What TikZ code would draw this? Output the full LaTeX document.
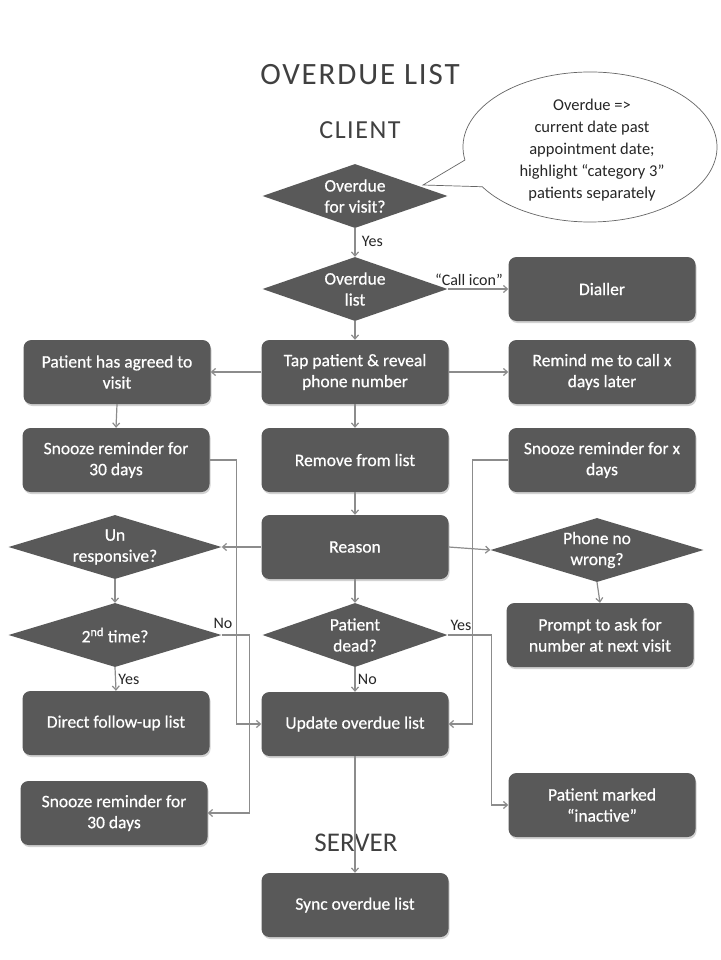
\documentclass[tikz,border=0pt]{standalone}
\usepackage{fontspec}
\setmainfont{Carlito}
\newfontfamily\titlefont[LetterSpace=6]{Carlito}
\newfontfamily\boxfont[FakeBold=0.6]{Carlito}
\usetikzlibrary{shapes.geometric,arrows.meta,shadows}
\definecolor{boxfill}{RGB}{89,89,89}
\definecolor{linegray}{RGB}{140,140,140}
\definecolor{titlegray}{RGB}{64,64,64}
\begin{document}
\begin{tikzpicture}[x=1pt,y=-1pt,
  box/.style={draw=none, fill=boxfill, rounded corners=8pt, minimum width=187pt, minimum height=64pt,
     text=white, align=center, font=\boxfont\fontsize{17.5}{21}\selectfont, inner sep=2pt,
     drop shadow={opacity=0.35, shadow xshift=1pt, shadow yshift=-2pt}},
  dia/.style={diamond, draw=none, fill=boxfill, inner sep=0pt, minimum width=#1, minimum height=64pt},
  dia/.default=185pt,
  dtext/.style={text=white, align=center, font=\boxfont\fontsize{17.5}{21}\selectfont},
  arr/.style={draw=linegray, line width=1.2pt, -{Straight Barb[length=4pt,width=7pt]}},
  lbl/.style={font=\fontsize{16}{19}\selectfont, text=black!85},
  ttl/.style={font=\titlefont, text=titlegray},
  bubble/.style={draw=black!60, line width=0.7pt, fill=white}
]
\useasboundingbox[fill=white] (0,0) rectangle (720,960);

% titles
\node[ttl, font=\titlefont\fontsize{31}{34}\selectfont] (title) at (360,75) {OVERDUE LIST};
\node[ttl, font=\titlefont\fontsize{26}{30}\selectfont] (client) at (360,130) {CLIENT};

% speech bubble
\coordinate (tip) at (423,185);
\draw[bubble] (590,147) ++(170:127 and 75) arc[start angle=170, end angle=508, x radius=127, y radius=75] -- (tip) -- cycle;
\node[align=center, font=\fontsize{16.5}{22}\selectfont, text=black!85] (note) at (592,150)
  {Overdue =>\\current date past\\appointment date;\\highlight “category 3”\\patients separately};

% nodes
\node[dia] (d1) at (355,196) {};
\node[dtext] (d1t) at (d1.center) {Overdue\\for visit?};
\node[dia] (d2) at (355,289) {};
\node[dtext] (d2t) at (d2.center) {Overdue\\list};
\node[box] (dial) at (602,289) {Dialler};

\node[box] (agree) at (117,372) {Patient has agreed to\\visit};
\node[box] (tap) at (355,372) {Tap patient \& reveal\\phone number};
\node[box] (remind) at (602,372) {Remind me to call x\\days later};

\node[box] (snz1) at (116,460) {Snooze reminder for\\30 days};
\node[box] (remove) at (355,460) {Remove from list};
\node[box] (snzx) at (602,460) {Snooze reminder for x\\days};

\node[dia=213pt] (unresp) at (115,547) {};
\node[dtext] (unrespt) at (unresp.center) {Un\\responsive?};
\node[box] (reason) at (355,547) {Reason};
\node[dia=213pt] (phone) at (597,550) {};
\node[dtext] (phonet) at (phone.center) {Phone no\\wrong?};

\node[dia=213pt] (sec) at (115,635) {};
\node[dtext] (sect) at (sec.center) {2\textsuperscript{nd} time?};
\node[dia] (dead) at (355,635) {};
\node[dtext] (deadt) at (dead.center) {Patient\\dead?};
\node[box] (prompt) at (600,635) {Prompt to ask for\\number at next visit};

\node[box] (direct) at (116,723) {Direct follow-up list};
\node[box] (update) at (355,724) {Update overdue list};

\node[box] (inact) at (602,805) {Patient marked\\“inactive”};
\node[box] (snz3) at (114,813) {Snooze reminder for\\30 days};

\node[ttl, font=\fontsize{27}{30}\selectfont] (server) at (356,843) {SERVER};
\node[box] (sync) at (355,905) {Sync overdue list};

% connectors
\draw[arr] (d1.south) -- node[lbl, right, pos=0.45, xshift=3pt] (yes1) {Yes} (d2.north);
\draw[arr] (d2.east) -- node[lbl, above, pos=0.35, yshift=-1pt] (callicon) {“Call icon”} (dial.west);
\draw[arr] (d2.south) -- (tap.north);
\draw[arr] (tap.west) -- (agree.east);
\draw[arr] (tap.east) -- (remind.west);
\draw[arr] (tap.south) -- (remove.north);
\draw[arr] (agree.south) -- (snz1.north);
\draw[arr] (remove.south) -- (reason.north);
\draw[arr] (reason.west) -- (unresp.east);
\draw[arr] (reason.east) -- (phone.west);
\draw[arr] (reason.south) -- (dead.north);
\draw[arr] (unresp.south) -- (sec.north);
\draw[arr] (phone.south) -- (prompt.north);
\draw[arr] (sec.south) -- node[lbl, right, pos=0.5, xshift=-1pt] (yes2) {Yes} (direct.north);
\draw[arr] (dead.south) -- node[lbl, right, pos=0.5, xshift=-1pt] (no2) {No} (update.north);
\draw[arr] (sec.east) -- ++(28,0) |- (snz3.east);
\node[lbl, anchor=south] (no1) at (223,632) {No};
\draw[arr] (snz1.east) -- ++(27,0) |- (update.west);
\draw[arr] (snzx.west) -- ++(-36,0) |- (update.east);
\draw[arr] (dead.east) -- ++(44,0) |- (inact.west);
\node[lbl, anchor=south] (yes3) at (461,634) {Yes};
\draw[arr] (update.south) -- (sync.north);
\end{tikzpicture}
\end{document}
